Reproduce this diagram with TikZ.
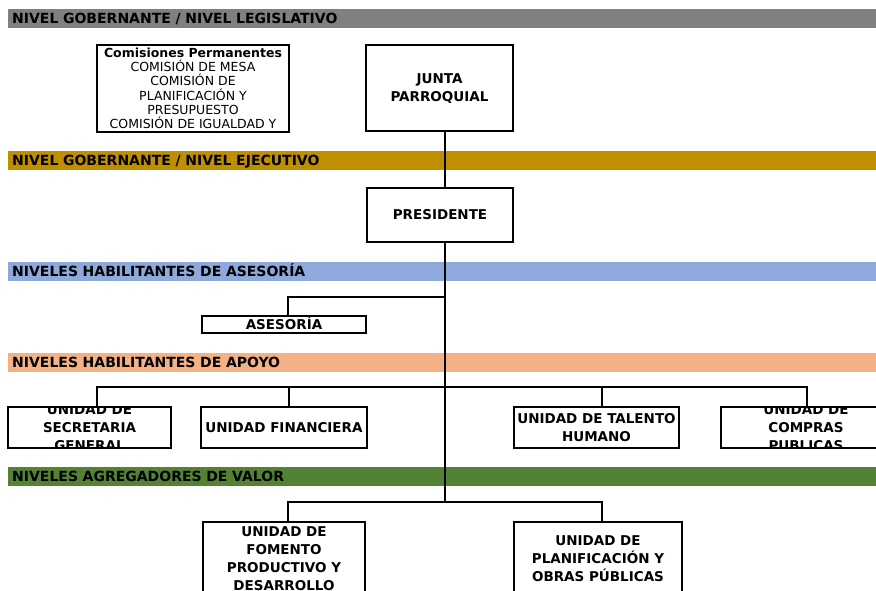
\documentclass[tikz,border=0pt]{standalone}
\usepackage{fontspec}
\setmainfont{DejaVu Sans}
\usetikzlibrary{calc}
\definecolor{bandgray}{HTML}{808080}
\definecolor{bandgold}{HTML}{BF8F00}
\definecolor{bandblue}{HTML}{8EA9DB}
\definecolor{bandsalmon}{HTML}{F4B183}
\definecolor{bandgreen}{HTML}{548235}
\newcommand\ubfont{\fontsize{13.5}{18}\selectfont\bfseries}
\newcommand\bdfont{\fontsize{14}{17}\selectfont\bfseries}
\newcommand\cmfont{\fontsize{12.5}{14.3}\selectfont}
\tikzset{
  band/.style={anchor=north west, inner xsep=4pt, inner ysep=0pt,
    minimum width=868pt, minimum height=19pt, text width=860pt,
    align=left, font=\bdfont, text height=10.2pt, text depth=0pt, fill=#1},
  ubox/.style={draw=black, line width=2.2pt, inner sep=0pt, fill=white,
    font=\ubfont, align=center, text height=9.84pt, text depth=0pt},
  intext/.style={draw=none, fill=none, inner sep=0pt, font=\ubfont,
    align=center, text depth=0pt},
  conn/.style={draw=black, line width=2.2pt, line cap=rect},
}
\begin{document}
\begin{tikzpicture}[x=1pt,y=-1pt]
\useasboundingbox (0,0) rectangle (876,590);
\clip (0,0) rectangle (876,590);

% bands
\node[band=bandgray]   (lvl1) at (8,9)   {NIVEL GOBERNANTE / NIVEL LEGISLATIVO};
\node[band=bandgold]   (lvl2) at (8,151) {NIVEL GOBERNANTE / NIVEL EJECUTIVO};
\node[band=bandblue]   (lvl3) at (8,262) {NIVELES HABILITANTES DE ASESORÍA};
\node[band=bandsalmon] (lvl4) at (8,353) {NIVELES HABILITANTES DE APOYO};
\node[band=bandgreen]  (lvl5) at (8,467) {NIVELES AGREGADORES DE VALOR};

% connector coordinates
\coordinate (spine) at (445,0);
\coordinate (spineEnd) at (445,502);
\coordinate (asesJ) at (445,297);
\coordinate (asesK) at (288,297);
\coordinate (j1) at (97,387);
\coordinate (j2) at (289,387);
\coordinate (j3) at (602,387);
\coordinate (j4) at (807,387);
\coordinate (k1) at (288,502);
\coordinate (k2) at (602,502);

% boxes
\node[ubox, minimum width=192pt, minimum height=87pt, font=\cmfont,
      text height=80.6pt] (comisiones) at (193,88.5)
  {{\bfseries Comisiones Permanentes}\\COMISIÓN DE MESA\\COMISIÓN DE\\PLANIFICACIÓN Y\\PRESUPUESTO\\COMISIÓN DE IGUALDAD Y};
\node[ubox, minimum width=147pt, minimum height=86pt, text height=27.84pt] (junta) at (439.5,88) {JUNTA\\PARROQUIAL};
\node[ubox, minimum width=146pt, minimum height=54pt] (presidente) at (440,215) {PRESIDENTE};
\node[ubox, minimum width=164pt, minimum height=17pt] (asesoria) at (284,324.5) {ASESORÍA};

\node[ubox, minimum width=163pt, minimum height=41pt,
  path picture={\node[intext, text height=45.84pt] (secretariaT) at (path picture bounding box.center) {UNIDAD DE\\SECRETARIA\\GENERAL};}]
  (secretaria) at (89.5,427.5) {};
\node[ubox, minimum width=166pt, minimum height=41pt] (financiera) at (284,427.5) {UNIDAD FINANCIERA};
\node[ubox, minimum width=165pt, minimum height=41pt, text height=27.84pt] (talento) at (596.5,427.5) {UNIDAD DE TALENTO\\HUMANO};
\node[ubox, minimum width=170pt, minimum height=41pt,
  path picture={\node[intext, text height=45.84pt] (comprasT) at (path picture bounding box.center) {UNIDAD DE\\COMPRAS\\PUBLICAS};}]
  (compras) at (806,427.5) {};

\node[ubox, minimum width=162pt, minimum height=74pt, text height=63.84pt,
      yshift=-3pt] (fomento) at (284,556) {UNIDAD DE\\FOMENTO\\PRODUCTIVO Y\\DESARROLLO};
\node[ubox, minimum width=168pt, minimum height=74pt, text height=45.84pt,
      yshift=-3pt] (planif) at (598,556) {UNIDAD DE\\PLANIFICACIÓN Y\\OBRAS PÚBLICAS};

% connectors
\draw[conn] (junta.south -| spine) -- (presidente.north -| spine);
\draw[conn] (presidente.south -| spine) -- (spineEnd);
\draw[conn] (asesJ) -- (asesK) -- (asesK |- asesoria.north);
\draw[conn] (j1) -- (j4);
\draw[conn] (j1) -- (j1 |- secretaria.north);
\draw[conn] (j2) -- (j2 |- financiera.north);
\draw[conn] (j3) -- (j3 |- talento.north);
\draw[conn] (j4) -- (j4 |- compras.north);
\draw[conn] (k1) -- (k2);
\draw[conn] (k1) -- (k1 |- fomento.north);
\draw[conn] (k2) -- (k2 |- planif.north);
\end{tikzpicture}
\end{document}
